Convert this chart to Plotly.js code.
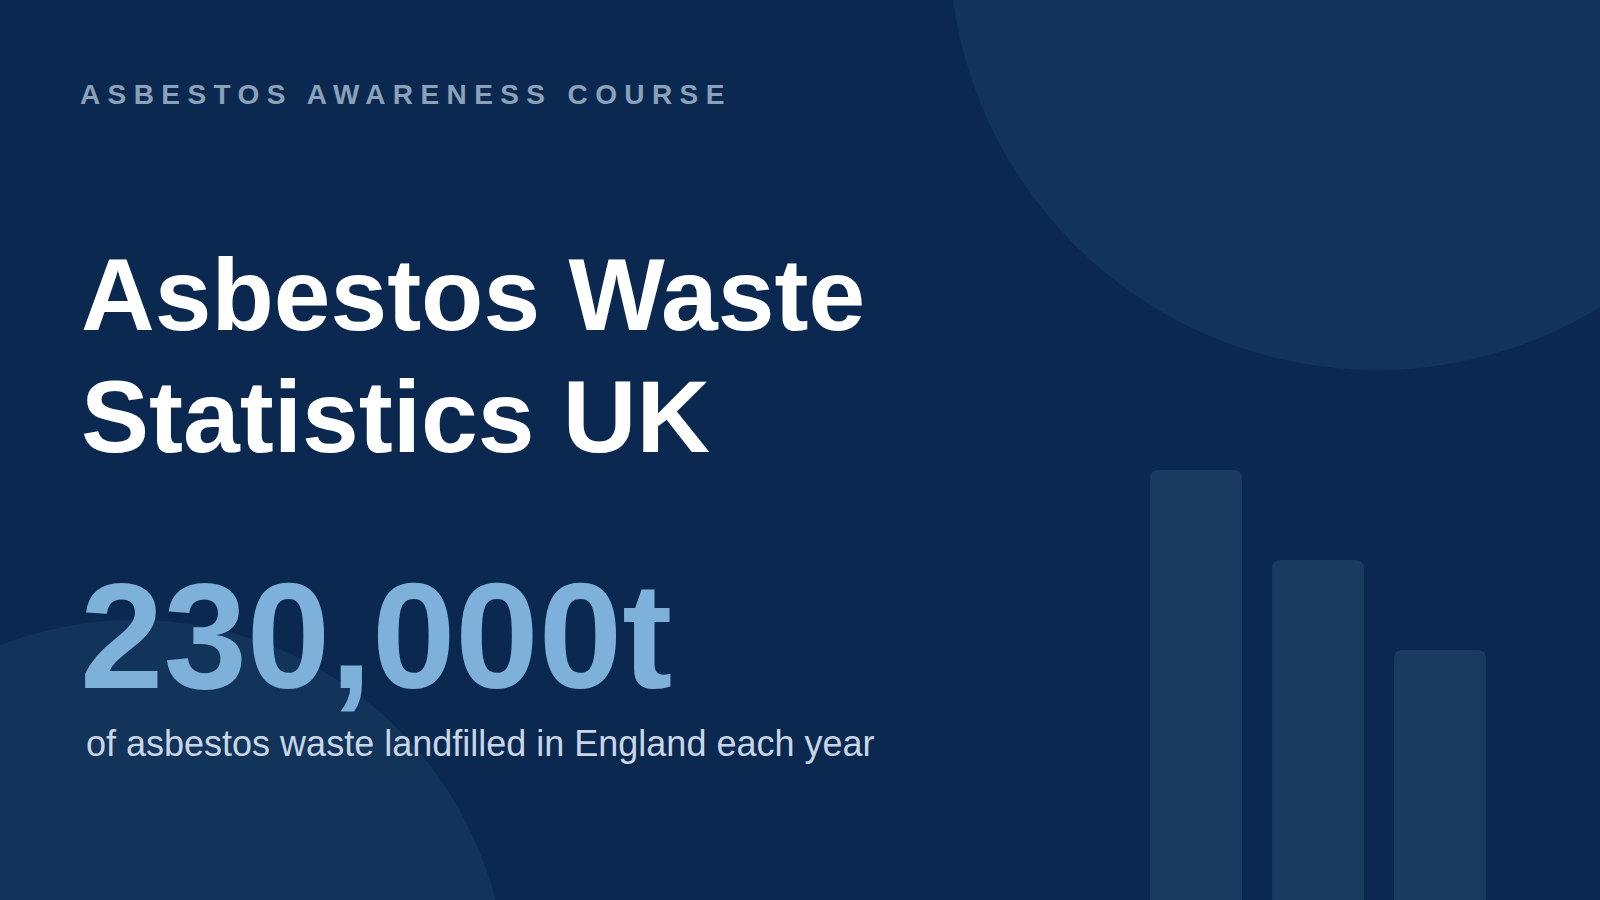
<!DOCTYPE html>
<html>
<head>
    <meta charset='utf-8'>
    <title>Asbestos Waste Statistics UK</title>
    <script src="https://cdn.plot.ly/plotly-3.0.1.min.js"></script>
    <style>
        html, body { margin: 0; padding: 0; background: #0b2950; }
        #chartDiv { width: 1600px; height: 900px; }
        text[data-unformatted*="ASBESTOS AWARENESS"] { letter-spacing: 7.4px; }
    </style>
</head>
<body>
    <div id="chartDiv"></div>

    <script>
        // decorative bar motif on the right
        const decoBarNames = ["a", "b", "c"];
        const decoBarValues = [43, 34, 25];

        const kickerText = "ASBESTOS AWARENESS COURSE";
        const titleLines = ["Asbestos Waste", "Statistics UK"];
        const statValue = "230,000t";
        const statCaption = "of asbestos waste landfilled in England each year";

        const bgColor = "#0b2950";
        const circleColor = "#13345a";
        const barColor = "#1a3a5f";

        const chartDiv = document.getElementById("chartDiv");

        const bars = {
            type : 'bar',
            x : decoBarNames,
            y : decoBarValues,
            xaxis : 'x2',
            yaxis : 'y2',
            marker : { color : barColor, cornerradius : 8, line : { width : 0 } },
            hoverinfo : 'skip',
            showlegend : false,
        };

        const hiddenAxis = { visible : false, fixedrange : true, showgrid : false, zeroline : false };

        const makeNote = (text, x, y, size, color, bold) => ({
            text : bold ? '<b>' + text + '</b>' : text,
            x : x, y : y,
            xref : 'x', yref : 'y',
            xanchor : 'left', yanchor : 'middle',
            showarrow : false,
            font : { family : 'Liberation Sans, Arial, sans-serif', size : size, color : color },
        });

        const layout = {
            width : 1600,
            height : 900,
            margin : { l : 0, r : 0, t : 0, b : 0 },
            paper_bgcolor : bgColor,
            plot_bgcolor : 'rgba(0,0,0,0)',
            showlegend : false,
            bargap : 0.246,
            xaxis : Object.assign({ range : [0, 1600], domain : [0, 1] }, hiddenAxis),
            yaxis : Object.assign({ range : [900, 0], domain : [0, 1] }, hiddenAxis),
            xaxis2 : Object.assign({ type : 'category', domain : [0.7094, 0.9381], anchor : 'y2' }, hiddenAxis),
            yaxis2 : Object.assign({ range : [0, 90], domain : [0, 1], anchor : 'x2' }, hiddenAxis),
            shapes : [
                { type : 'circle', xref : 'x', yref : 'y', layer : 'below',
                  x0 : 1377 - 428, x1 : 1377 + 428, y0 : -58 - 428, y1 : -58 + 428,
                  fillcolor : circleColor, line : { width : 0 } },
                { type : 'circle', xref : 'x', yref : 'y', layer : 'below',
                  x0 : 135 - 372, x1 : 135 + 372, y0 : 992 - 372, y1 : 992 + 372,
                  fillcolor : circleColor, line : { width : 0 } },
            ],
            annotations : [
                makeNote(kickerText, 78, 94, 28, '#8ba1ba', true),
                makeNote(titleLines[0], 79, 294.7, 102, '#ffffff', true),
                makeNote(titleLines[1], 79, 416.7, 102, '#ffffff', true),
                makeNote(statValue, 78, 636, 150, '#7eb1d9', true),
                makeNote(statCaption, 84, 743.5, 36, '#c8d6e6', false),
            ],
        };

        Plotly.newPlot(chartDiv, [bars], layout, { staticPlot : true, displayModeBar : false });
    </script>
</body>
</html>
